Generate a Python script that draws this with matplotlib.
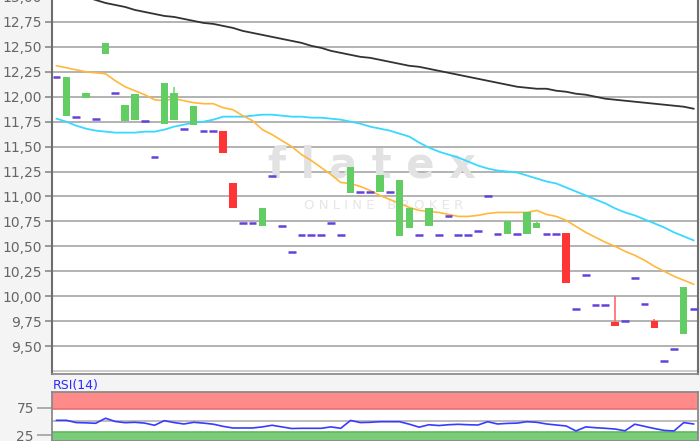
"""Daily candles with moving averages and RSI panel."""
import matplotlib.pyplot as plt
import numpy as np


# Daily prices (open, close, high, low); open == close marks a day without trades
opens = [
    12.20, 11.81, 11.80, 11.99, 11.78, 12.43, 12.04, 11.76, 11.77, 11.76,
    11.40, 11.73, 11.77, 11.68, 11.72, 11.66, 11.66, 11.66, 11.14, 10.73,
    10.73, 10.70, 11.21, 10.70, 10.44, 10.61, 10.61, 10.61, 10.73, 10.61,
    11.03, 11.04, 11.04, 11.04, 11.04, 10.60, 10.68, 10.61, 10.70, 10.61,
    10.80, 10.61, 10.61, 10.65, 11.00, 10.62, 10.62, 10.62, 10.62, 10.68,
    10.62, 10.62, 10.63, 9.87, 10.21, 9.91, 9.91, 9.74, 9.75, 10.18,
    9.92, 9.75, 9.35, 9.47, 9.62, 9.87,
]
closes = [
    12.20, 12.20, 11.80, 12.04, 11.78, 12.54, 12.04, 11.92, 12.03, 11.76,
    11.40, 12.14, 12.04, 11.68, 11.91, 11.66, 11.66, 11.44, 10.88, 10.73,
    10.73, 10.88, 11.21, 10.70, 10.44, 10.61, 10.61, 10.61, 10.73, 10.61,
    11.30, 11.04, 11.04, 11.22, 11.04, 11.17, 10.88, 10.61, 10.88, 10.61,
    10.80, 10.61, 10.61, 10.65, 11.00, 10.62, 10.75, 10.62, 10.84, 10.73,
    10.62, 10.62, 10.13, 9.87, 10.21, 9.91, 9.91, 9.70, 9.75, 10.18,
    9.92, 9.68, 9.35, 9.47, 10.09, 9.87,
]
highs = [
    12.20, 12.20, 11.80, 12.04, 11.78, 12.54, 12.04, 11.92, 12.03, 11.76,
    11.40, 12.14, 12.10, 11.68, 11.91, 11.66, 11.66, 11.66, 11.14, 10.73,
    10.73, 10.88, 11.21, 10.70, 10.44, 10.61, 10.61, 10.61, 10.73, 10.61,
    11.30, 11.04, 11.04, 11.22, 11.04, 11.17, 10.88, 10.61, 10.88, 10.61,
    10.80, 10.61, 10.61, 10.65, 11.00, 10.62, 10.75, 10.62, 10.84, 10.75,
    10.62, 10.62, 10.63, 9.87, 10.21, 9.91, 9.91, 10.00, 9.75, 10.18,
    9.92, 9.77, 9.35, 9.47, 10.09, 9.87,
]

# Moving averages
sma_200 = [
    13.07, 13.05, 13.02, 13.00, 12.97, 12.94, 12.92, 12.90, 12.87, 12.85,
    12.83, 12.81, 12.80, 12.78, 12.76, 12.74, 12.73, 12.71, 12.69, 12.66,
    12.64, 12.62, 12.60, 12.58, 12.56, 12.54, 12.51, 12.49, 12.46, 12.44,
    12.42, 12.40, 12.39, 12.37, 12.35, 12.33, 12.31, 12.30, 12.28, 12.26,
    12.24, 12.22, 12.20, 12.18, 12.16, 12.14, 12.12, 12.10, 12.09, 12.08,
    12.08, 12.06, 12.05, 12.03, 12.02, 12.00, 11.98, 11.97, 11.96, 11.95,
    11.94, 11.93, 11.92, 11.91, 11.90, 11.88,
]
sma_50 = [
    11.78, 11.75, 11.71, 11.68, 11.66, 11.65, 11.64, 11.64, 11.64, 11.65,
    11.65, 11.67, 11.70, 11.72, 11.74, 11.75, 11.77, 11.80, 11.80, 11.80,
    11.81, 11.82, 11.82, 11.81, 11.80, 11.80, 11.79, 11.79, 11.78, 11.77,
    11.75, 11.73, 11.70, 11.68, 11.66, 11.63, 11.60, 11.54, 11.49, 11.45,
    11.42, 11.39, 11.35, 11.31, 11.28, 11.26, 11.25, 11.24, 11.21, 11.18,
    11.15, 11.13, 11.09, 11.05, 11.01, 10.97, 10.93, 10.88, 10.84, 10.81,
    10.77, 10.73, 10.69, 10.64, 10.60, 10.56,
]
sma_20 = [
    12.31, 12.29, 12.27, 12.25, 12.24, 12.23, 12.16, 12.10, 12.06, 12.02,
    11.97, 11.96, 11.98, 11.96, 11.94, 11.93, 11.93, 11.89, 11.87, 11.81,
    11.76, 11.67, 11.62, 11.56, 11.50, 11.42, 11.36, 11.29, 11.22, 11.14,
    11.13, 11.10, 11.06, 11.01, 10.97, 10.93, 10.89, 10.86, 10.85, 10.84,
    10.82, 10.80, 10.80, 10.81, 10.83, 10.84, 10.84, 10.84, 10.84, 10.86,
    10.82, 10.80, 10.76, 10.70, 10.64, 10.59, 10.54, 10.50, 10.45, 10.41,
    10.36, 10.30, 10.25, 10.20, 10.16, 10.12,
]

rsi_14 = [
    52.2, 52.2, 48.0, 47.5, 46.7, 56.0, 50.0, 47.8, 48.5, 47.0,
    43.0, 51.5, 48.0, 45.4, 48.5, 47.0, 45.0, 41.0, 38.0, 38.0,
    38.0, 40.0, 43.0, 40.0, 37.0, 37.4, 37.4, 37.4, 40.0, 37.4,
    52.0, 48.0, 48.5, 49.6, 49.6, 49.6, 45.0, 39.5, 44.0, 42.5,
    44.0, 44.8, 44.0, 43.5, 49.6, 45.4, 46.5, 47.0, 49.6, 48.5,
    45.4, 43.5, 41.7, 32.5, 40.0, 38.5, 37.4, 36.0, 32.8, 45.0,
    41.0, 37.0, 33.5, 32.5, 48.0, 45.4,
]

price_ticks = [9.50, 9.75, 10.00, 10.25, 10.50, 10.75, 11.00, 11.25,
               11.50, 11.75, 12.00, 12.25, 12.50, 12.75, 13.00]
price_labels = ['9,50', '9,75', '10,00', '10,25', '10,50', '10,75', '11,00',
                '11,25', '11,50', '11,75', '12,00', '12,25', '12,50',
                '12,75', '13,00']
rsi_ticks = [25, 75]
rsi_labels = ['25', '75']

W, H = 700, 441
GREEN = '#62cd62'
RED = '#ff3434'
FLAT = '#6541dc'


def px_box(left, top, right, bottom):
    """Axes rectangle from pixel edges (measured from the top left)."""
    return [left / W, 1 - bottom / H, (right - left) / W, (bottom - top) / H]


fig = plt.figure(figsize=(W / 100, H / 100), dpi=100, facecolor='#f4f4f4')
ax = fig.add_axes(px_box(52, -8, 697.5, 374))
rsi_ax = fig.add_axes(px_box(52, 392, 697.5, 441))

days = np.arange(len(opens))
o = np.array(opens)
c = np.array(closes)
h = np.array(highs)

# Watermark
ax.text(0.496, 0.545, 'f l a t e x', transform=ax.transAxes, ha='center',
        va='center', fontsize=30, fontweight='bold', color='#e2e2e2',
        zorder=1)
ax.text(0.514, 0.44, 'O N L I N E   B R O K E R', transform=ax.transAxes,
        ha='center', va='center', fontsize=9.5, color='#e6e6e6', zorder=1)

# Moving averages
ax.plot(days, sma_200, color='#333333', lw=1.3, zorder=3)
ax.plot(days, sma_50, color='#38d8ff', lw=1.3, zorder=3)
ax.plot(days, sma_20, color='#ffb83a', lw=1.2, zorder=3)

# Candles
flat = o == c
up = c > o
down = c < o
body_top = np.maximum(o, c)
wick = (h > body_top) & ~flat
ax.vlines(days[wick & up], body_top[wick & up], h[wick & up],
          color='#7bd67b', lw=1.2, zorder=4)
ax.vlines(days[wick & down], body_top[wick & down], h[wick & down],
          color='#ff6a6a', lw=1.2, zorder=4)
ax.bar(days[up], (c - o)[up], bottom=o[up], width=0.75, color=GREEN,
       zorder=5)
ax.bar(days[down], (o - c)[down], bottom=c[down], width=0.75, color=RED,
       zorder=5)
ax.hlines(c[flat], days[flat] - 0.4, days[flat] + 0.4, color=FLAT, lw=1.8,
          zorder=5)

ax.set_xlim(-0.46, 65.4)
ax.set_ylim(9.22, 13.05)
ax.set_yticks(price_ticks)
ax.set_yticklabels(price_labels)
ax.set_xticks([])
ax.grid(axis='y', color='#b2b2b2', lw=1.4, zorder=0)
ax.axhline(9.255, color='#c4c4c4', lw=1.2, zorder=0)
ax.tick_params(axis='y', length=5, width=1.2, color='#8a8a8a',
               labelcolor='#666666', labelsize=10, pad=2)
for side in ['left', 'right']:
    ax.spines[side].set_color('#6e6e6e')
    ax.spines[side].set_linewidth(1.5)
ax.spines['bottom'].set_color('#8c8c8c')
ax.spines['bottom'].set_linewidth(1.3)
ax.spines['top'].set_visible(False)
ax.set_axisbelow(True)

# RSI panel
rsi_ax.axhspan(72.5, 110, facecolor='#ff8a8a', edgecolor='#e87070', lw=1.2)
rsi_ax.axhspan(0, 31, facecolor='#79cd79', edgecolor='#5fb85f', lw=1.2)
rsi_ax.axhline(50, color='#b8b8b8', lw=1.3)
rsi_ax.plot(days, rsi_14, color='#3a3aff', lw=1.2, zorder=3)
rsi_ax.set_xlim(-0.46, 65.4)
rsi_ax.set_ylim(13.9, 104.6)
rsi_ax.set_yticks(rsi_ticks)
rsi_ax.set_yticklabels(rsi_labels)
rsi_ax.set_xticks([])
rsi_ax.tick_params(axis='y', length=11, width=1.2, color='#a0a0a0',
                   labelcolor='#666666', labelsize=10, pad=2)
for side in rsi_ax.spines:
    rsi_ax.spines[side].set_color('#8a8a8a')
    rsi_ax.spines[side].set_linewidth(1.3)

fig.text(53 / W, 1 - 385.5 / H, 'RSI(14)', color='#2a2aff', fontsize=9,
         va='center', ha='left')

fig.savefig('out.png', dpi=100, facecolor=fig.get_facecolor())
